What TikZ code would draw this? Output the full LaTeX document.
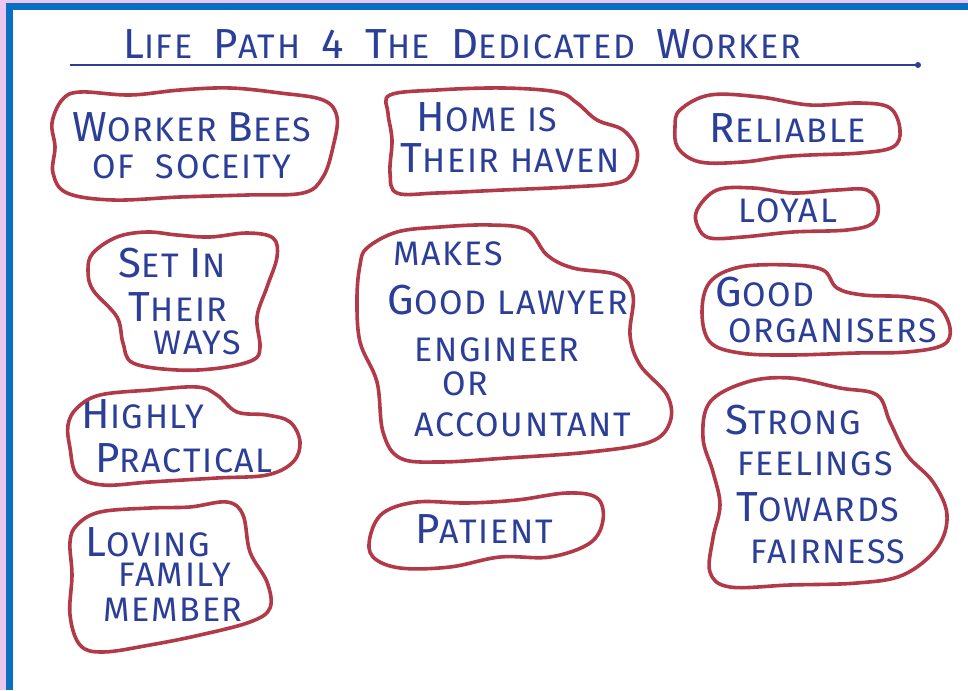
\documentclass[tikz,border=0pt]{standalone}
\usepackage{fontspec}
\setmainfont{Fira Sans}[LetterSpace=5.0]
\definecolor{ink}{HTML}{2B3E98}
\definecolor{marker}{HTML}{B23A48}
\definecolor{frame}{HTML}{0A6FC2}
\definecolor{edge}{HTML}{EBC6EE}
\newcommand{\ini}[1]{{\fontsize{21}{21}\selectfont #1}}
\begin{document}
\begin{tikzpicture}[x=0.5pt, y=-0.5pt,
	word/.style={text=ink, inner sep=0pt, font=\fontsize{17}{20}\selectfont},
	title/.style={text=ink, inner sep=0pt, font=\fontsize{17}{20}\selectfont},
	blob/.style={draw=marker, line width=1.8pt, line join=round},
	rule/.style={draw=ink, line width=1pt}]
	\useasboundingbox (0,0) rectangle (968,690);
	\fill[white] (0,0) rectangle (968,690);
	% frame
	\fill[edge] (0,0) rectangle (968,3);
	\fill[edge] (0,0) rectangle (6,690);
	\fill[frame] (6,3) rectangle (968,10);
	\fill[frame] (6,3) rectangle (13,690);

	% heading
	\node[title] (title) at (462,44) {\ini{L}IFE\ \ \ini{P}ATH\ \ \ini{4}\ \ \ini{T}HE\ \ \ini{D}EDICATED\ \ \ini{W}ORKER};
	\coordinate (ruleL) at (70,65);
	\coordinate (ruleR) at (918,65);
	\draw[rule] (ruleL) -- (ruleR);
	\fill[ink] (ruleR) circle (3);

	% left column
	\node[word] (bees1) at (192,127) {\ini{W}ORKER \ini{B}EES};
	\node[word] (bees2) at (192,167) {OF \ SOCEITY};
	\draw[blob] plot[smooth cycle, tension=0.6] coordinates {(62,100) (80,92) (130,95) (180,90) (230,88) (280,93) (323,100) (337,117) (333,147) (323,177) (303,193) (247,195) (180,197) (113,200) (67,193) (53,173) (55,147) (52,123)};

	\node[word] (ways1) at (172,263) {\ini{S}ET \ini{I}N};
	\node[word] (ways2) at (178,307) {\ini{T}HEIR};
	\node[word] (ways3) at (197,343) {WAYS};
	\draw[blob] plot[smooth cycle, tension=0.6] coordinates {(93,253) (117,237) (147,232) (177,235) (210,237) (247,233) (273,238) (277,257) (267,287) (257,317) (260,347) (253,360) (220,368) (177,370) (133,363) (123,343) (117,317) (93,290) (88,270)};

	\node[word] (prac1) at (143,414) {\ini{H}IGHLY};
	\node[word] (prac2) at (184,458) {\ini{P}RACTICAL};
	\draw[blob] plot[smooth cycle, tension=0.6] coordinates {(77,408) (100,395) (150,390) (197,387) (217,395) (237,412) (267,415) (290,422) (300,442) (293,462) (267,475) (217,478) (150,482) (103,485) (77,475) (70,448) (68,425)};

	\node[word] (fam1) at (148,542) {\ini{L}OVING};
	\node[word] (fam2) at (175,575) {FAMILY};
	\node[word] (fam3) at (173,610) {MEMBER};
	\draw[blob] plot[smooth cycle, tension=0.6] coordinates {(77,525) (100,512) (150,508) (190,507) (227,502) (243,515) (250,552) (267,582) (270,608) (250,622) (200,635) (150,645) (103,652) (80,645) (70,615) (72,575) (70,542)};

	% middle column
	\node[word] (home1) at (487,117) {\ini{H}OME IS};
	\node[word] (home2) at (510,158) {\ini{T}HEIR HAVEN};
	\draw[blob] plot[smooth cycle, tension=0.6] coordinates {(390,95) (437,90) (503,88) (557,92) (577,103) (597,120) (623,130) (637,150) (633,172) (617,183) (570,187) (503,190) (437,193) (397,193) (390,173) (392,140) (388,113)};

	\node[word] (job1) at (448,254) {MAKES};
	\node[word] (job2) at (508,300) {\ini{G}OOD LAWYER};
	\node[word] (job3) at (497,350) {ENGINEER};
	\node[word] (job4) at (465,384) {OR};
	\node[word] (job5) at (523,425) {ACCOUNTANT};
	\draw[blob] plot[smooth cycle, tension=0.6] coordinates {(367,248) (397,232) (440,227) (490,225) (527,230) (547,255) (573,268) (617,275) (633,295) (630,335) (640,365) (667,395) (670,422) (650,442) (590,452) (507,458) (440,462) (400,458) (383,432) (377,382) (360,342) (357,298) (360,265)};

	\node[word] (pat) at (484,529) {\ini{P}ATIENT};
	\draw[blob] plot[smooth cycle, tension=0.6] coordinates {(370,537) (383,513) (417,502) (467,503) (517,500) (567,493) (597,498) (603,520) (590,543) (550,557) (500,557) (450,567) (400,568) (373,557)};

	% right column
	\node[word] (rel) at (788,128) {\ini{R}ELIABLE};
	\draw[blob] plot[smooth cycle, tension=0.6] coordinates {(680,110) (710,95) (760,97) (810,105) (860,103) (890,108) (900,130) (893,147) (860,153) (810,155) (780,157) (743,162) (700,162) (678,148) (675,127)};

	\node[word] (loy) at (788,211) {LOYAL};
	\draw[blob] plot[smooth cycle, tension=0.6] coordinates {(697,210) (717,190) (753,188) (793,193) (837,190) (867,190) (878,205) (873,223) (847,230) (793,232) (743,237) (710,238) (698,227)};

	\node[word] (org1) at (765,292) {\ini{G}OOD};
	\node[word] (org2) at (833,331) {ORGANISERS};
	\draw[blob] plot[smooth cycle, tension=0.6] coordinates {(710,282) (740,267) (790,265) (823,270) (837,288) (863,295) (907,297) (937,305) (950,328) (943,345) (907,352) (857,353) (790,355) (740,353) (710,342) (702,312)};

	\node[word] (fair1) at (793,420) {\ini{S}TRONG};
	\node[word] (fair2) at (815,464) {FEELINGS};
	\node[word] (fair3) at (818,507) {\ini{T}OWARDS};
	\node[word] (fair4) at (828,552) {FAIRNESS};
	\draw[blob] plot[smooth cycle, tension=0.6] coordinates {(710,402) (747,382) (790,378) (840,388) (877,395) (890,422) (907,455) (933,482) (947,515) (937,548) (903,575) (857,583) (790,585) (730,587) (710,572) (713,538) (720,505) (713,472) (703,438)};
\end{tikzpicture}
\end{document}
